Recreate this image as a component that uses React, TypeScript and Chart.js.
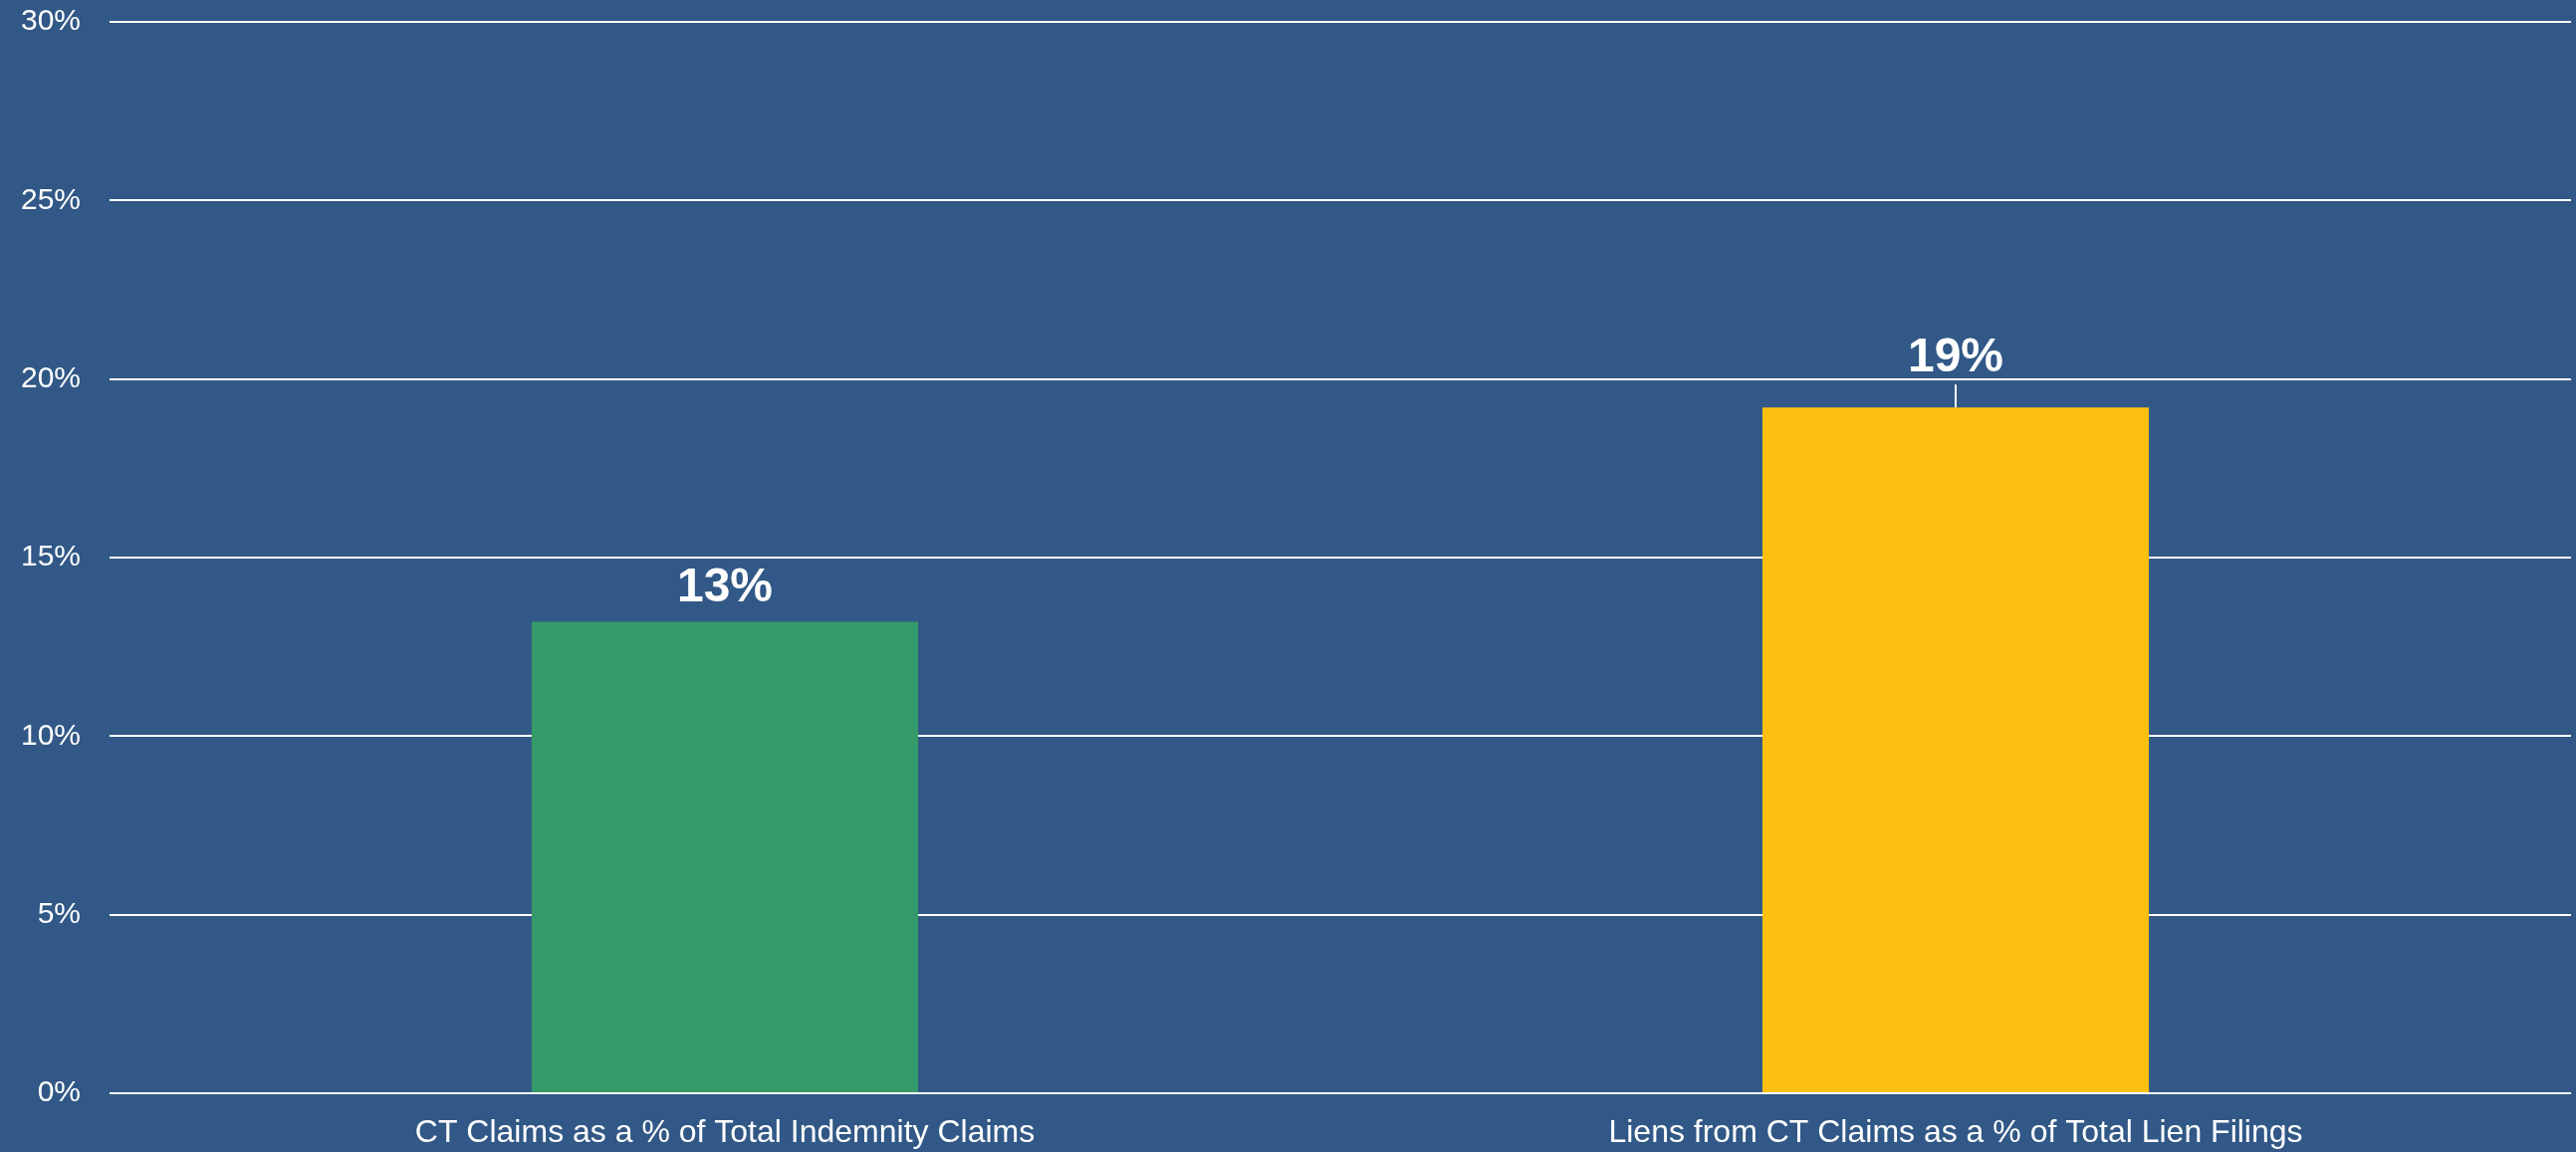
import React, { useEffect, useRef } from "react";
import { Chart, registerables } from "chart.js";

Chart.register(...registerables);

const categories = [
  "CT Claims as a % of Total Indemnity Claims",
  "Liens from CT Claims as a % of Total Lien Filings",
];
const values = [13.2, 19.2];
const barColors = ["#349A69", "#FCC010"];
const yTicks = [0, 5, 10, 15, 20, 25, 30];
const labelLift = [21, 36];

const W = 2587;
const H = 1157;
const BG = "#315886";

const bgPlugin = {
  id: "bgFill",
  beforeDraw(chart: any) {
    const ctx = chart.ctx;
    ctx.save();
    ctx.fillStyle = BG;
    ctx.fillRect(0, 0, chart.width, chart.height);
    ctx.restore();
  },
};

const xLabelPlugin = {
  id: "xLabels",
  afterDraw(chart: any) {
    const ctx = chart.ctx;
    const xs = chart.scales.x;
    ctx.save();
    ctx.fillStyle = "#FFFFFF";
    ctx.font = "32px 'Liberation Sans', Arial, sans-serif";
    ctx.textAlign = "center";
    ctx.textBaseline = "alphabetic";
    categories.forEach((c, i) => {
      const x = xs.getPixelForTick(i);
      const y = xs.top + 49;
      ctx.fillText(c, x, y);
    });
    ctx.restore();
  },
};

const labelPlugin = {
  id: "valueLabels",
  afterDatasetsDraw(chart: any) {
    const ctx = chart.ctx;
    const meta = chart.getDatasetMeta(0);
    ctx.save();
    ctx.fillStyle = "#FFFFFF";
    ctx.strokeStyle = "#FFFFFF";
    ctx.font = "bold 48px 'Liberation Sans', Arial, sans-serif";
    ctx.textAlign = "center";
    ctx.textBaseline = "alphabetic";
    meta.data.forEach((bar: any, i: number) => {
      const v = values[i];
      const lift = labelLift[i];
      const baseY = bar.y - lift;
      ctx.fillText(Math.round(v) + "%", bar.x, baseY);
      if (lift > 25) {
        ctx.lineWidth = 2;
        ctx.beginPath();
        ctx.moveTo(bar.x, baseY + 13);
        ctx.lineTo(bar.x, bar.y);
        ctx.stroke();
      }
    });
    ctx.restore();
  },
};

export default function App() {
  const ref = useRef<HTMLCanvasElement | null>(null);
  useEffect(() => {
    document.body.style.margin = "0";
    const canvas = ref.current;
    if (!canvas) return;
    const chart = new Chart(canvas, {
      type: "bar",
      data: {
        labels: categories,
        datasets: [
          {
            data: values,
            backgroundColor: barColors,
            borderWidth: 0,
            categoryPercentage: 1,
            barPercentage: 0.314,
          },
        ],
      },
      options: {
        responsive: false,
        animation: false,
        devicePixelRatio: 1,
        layout: { autoPadding: false, padding: { top: 22, right: 5, left: 0, bottom: 0 } },
        plugins: {
          legend: { display: false },
          tooltip: { enabled: false },
        },
        scales: {
          x: {
            grid: { display: false, drawTicks: false },
            border: { display: false },
            ticks: { display: false },
            afterFit(scale: any) {
              scale.height = 59;
              scale.paddingLeft = 0;
              scale.paddingRight = 0;
            },
          },
          y: {
            min: 0,
            max: 30,
            afterBuildTicks(scale: any) {
              scale.ticks = yTicks.map((v) => ({ value: v }));
            },
            grid: {
              color: "#FFFFFF",
              lineWidth: 2,
              drawTicks: false,
            },
            border: { display: false },
            ticks: {
              color: "#FFFFFF",
              padding: 29,
              font: { family: "'Liberation Sans', Arial, sans-serif", size: 30 },
              callback: (v: any) => v + "%",
            },
            afterFit(scale: any) {
              scale.width = 110;
              scale.paddingTop = 0;
              scale.paddingBottom = 0;
            },
          },
        },
      },
      plugins: [bgPlugin, labelPlugin, xLabelPlugin],
    });
    return () => chart.destroy();
  }, []);
  return (
    <div style={{ width: W, height: H }}>
      <canvas ref={ref} width={W} height={H} style={{ display: "block", width: W, height: H }} />
    </div>
  );
}
